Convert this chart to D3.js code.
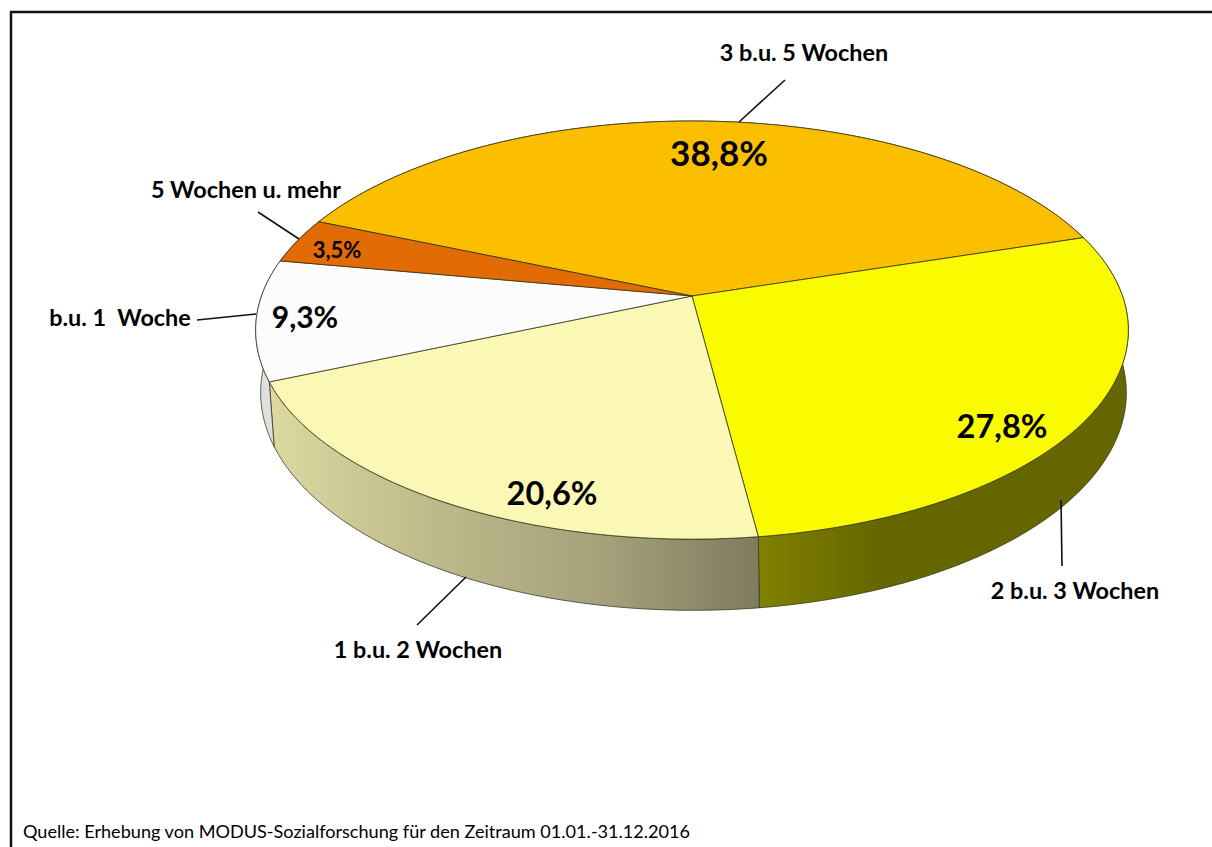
<!DOCTYPE html>
<html>
<head>
<meta charset="utf-8">
<script src="https://cdnjs.cloudflare.com/ajax/libs/d3/7.8.5/d3.min.js"></script>
<style>
  html, body { margin: 0; padding: 0; background: #fff; }
  svg { display: block; }
  text { font-family: Lato, "Open Sans", sans-serif; fill: #000; }
  .name { font-size: 23.4px; font-weight: 700; white-space: pre; }
  .source { font-size: 18.1px; font-weight: 400; }
</style>
</head>
<body>
<div id="chart"></div>
<script>
// chart data
var categories = ["3 b.u. 5 Wochen", "2 b.u. 3 Wochen", "1 b.u. 2 Wochen", "b.u. 1  Woche", "5 Wochen u. mehr"];
var shares = [38.8, 27.8, 20.6, 9.3, 3.5];
var source = "Quelle: Erhebung von MODUS-Sozialforschung für den Zeitraum 01.01.-31.12.2016";

// colours, same order as categories
var topColors = ["#fcbf00", "#fbfb00", "#fbf7b5", "#fcfcfc", "#e36b04"];
var sideStops = [
  ["#a88000", "#a88000"],
  ["#808000", "#666600", "#666600", "#666600"],
  ["#dcd8a0", "#bdb98b", "#a5a27c", "#7f7c5e"],
  ["#dfdfdf", "#dfdfdf"],
  ["#964700", "#964700"]
];

var width = 1212, height = 847;

// perspective of the pie: apex, radii, tilt and thickness
var cx = 692, cy = 296, rx = 430.5, ry = 203.5, tilt = 0.163;
var depth = 61.2, shrink = 0.992, lowShift = 1.5;

var svg = d3.select("#chart")
  .append("svg")
    .attr("width", width)
    .attr("height", height);

var defs = svg.append("defs");

// angle (0 = top, clockwise) to screen, top face
function topPoint(a) {
  var u = Math.sin(a), v = -Math.cos(a), s = 1 / (1 - tilt * v);
  return [cx + rx * u * s, cy + ry * v * s];
}

// same angle on the lower rim
function lowPoint(a) {
  var u = Math.sin(a), v = -Math.cos(a), s = 1 / (1 - tilt * v);
  return [cx + lowShift + rx * u * s * shrink, cy + ry * v * s * shrink + depth * s];
}

function arcAngles(d) {
  var n = Math.ceil((d.endAngle - d.startAngle) / 0.01);
  return d3.range(n + 1).map(function(i) {
    return d.startAngle + (d.endAngle - d.startAngle) * i / n;
  });
}

var line = d3.line();

var pie = d3.pie()
  .sort(null)
  .startAngle(-67.18 * Math.PI / 180)
  .endAngle((360 - 67.18) * Math.PI / 180);

var slices = pie(shares);

// gradients for the walls, running left to right across each wall
slices.forEach(function(d, i) {
  var xs = arcAngles(d).map(function(a) { return lowPoint(a)[0]; });
  var g = defs.append("linearGradient")
    .attr("id", "side" + i)
    .attr("gradientUnits", "userSpaceOnUse")
    .attr("x1", d3.min(xs)).attr("x2", d3.max(xs))
    .attr("y1", 0).attr("y2", 0);
  sideStops[i].forEach(function(c, j) {
    g.append("stop")
      .attr("offset", j / (sideStops[i].length - 1))
      .attr("stop-color", c);
  });
});

// walls first, the top faces hide whatever is behind them
svg.append("g").selectAll("path")
  .data(slices)
  .enter()
  .append("path")
    .attr("d", function(d) {
      var as = arcAngles(d);
      return line(as.map(topPoint).concat(as.slice().reverse().map(lowPoint))) + "Z";
    })
    .attr("fill", function(d, i) { return "url(#side" + i + ")"; })
    .attr("stroke", "#3a3a20")
    .attr("stroke-width", 0.8)
    .attr("stroke-linejoin", "round");

svg.append("g").selectAll("path")
  .data(slices)
  .enter()
  .append("path")
    .attr("d", function(d) {
      return line([[cx, cy]].concat(arcAngles(d).map(topPoint))) + "Z";
    })
    .attr("fill", function(d, i) { return topColors[i]; })
    .attr("stroke", "#33331a")
    .attr("stroke-width", 0.8)
    .attr("stroke-linejoin", "round");

// frame, open on the right and at the bottom
svg.append("path")
  .attr("d", "M11,847V12H1212")
  .attr("fill", "none")
  .attr("stroke", "#111")
  .attr("stroke-width", 2.5);

// leader lines and labels, hand placed like in the original
var placing = [
  {name: [804, 53], pct: [719, 154], size: 35, lead: [[739, 122], [785, 80]]},
  {name: [1075, 591], pct: [1002, 427], size: 32.5, lead: [[1062, 566], [1061, 500]]},
  {name: [418, 650], pct: [552, 494], size: 32.5, lead: [[417, 625], [466, 577]]},
  {name: [120, 318], pct: [305, 317], size: 30, lead: [[197, 320], [256, 314]]},
  {name: [246, 190], pct: [337, 250], size: 22, lead: [[258, 212], [299, 239]]}
];

svg.append("g").selectAll("path")
  .data(placing)
  .enter()
  .append("path")
    .attr("d", function(d) { return line(d.lead); })
    .attr("stroke", "#111")
    .attr("stroke-width", 1.6)
    .attr("fill", "none");

svg.append("g").selectAll("text")
  .data(categories)
  .enter()
  .append("text")
    .attr("class", "name")
    .attr("x", function(d, i) { return placing[i].name[0]; })
    .attr("y", function(d, i) { return placing[i].name[1]; })
    .attr("dy", "0.35em")
    .attr("text-anchor", "middle")
    .text(function(d) { return d; });

svg.append("g").selectAll("text")
  .data(shares)
  .enter()
  .append("text")
    .attr("x", function(d, i) { return placing[i].pct[0]; })
    .attr("y", function(d, i) { return placing[i].pct[1]; })
    .attr("dy", "0.35em")
    .attr("text-anchor", "middle")
    .style("font-size", function(d, i) { return placing[i].size + "px"; })
    .style("font-weight", 700)
    .text(function(d) { return d.toFixed(1).replace(".", ",") + "%"; });

svg.append("text")
  .attr("class", "source")
  .attr("x", 23)
  .attr("y", 838)
  .text(source);
</script>
</body>
</html>
